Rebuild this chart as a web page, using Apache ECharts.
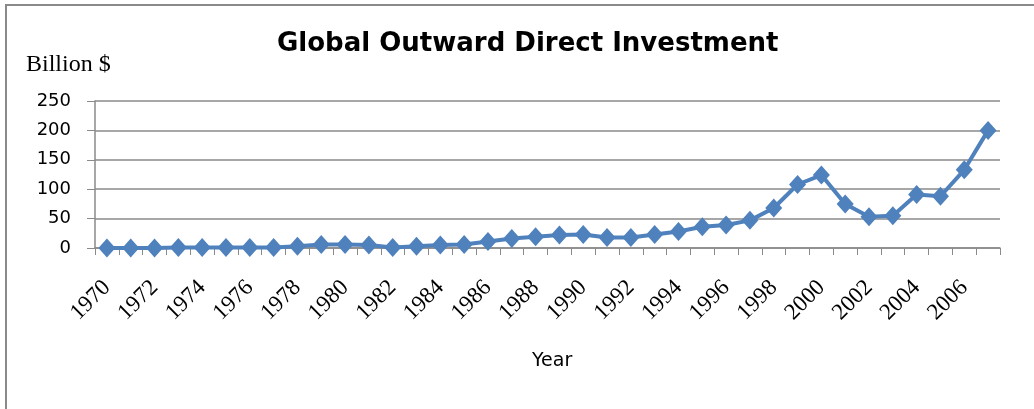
<!doctype html>
<html>
<head>
<meta charset="utf-8">
<script src="https://cdn.jsdelivr.net/npm/echarts@6/dist/echarts.min.js"></script>
<style>
* { margin: 0; padding: 0; }
body { background: #fff; }
#chart { width: 1034px; height: 409px; }
/* frame: only the top and left edges are visible */
#frame {
	position: absolute; left: 5px; top: 4px; width: 1100px; height: 500px;
	border-top: 2px solid #8a8a8a; border-left: 2px solid #8a8a8a;
	pointer-events: none;
}
</style>
</head>
<body>
<div id="chart"></div>
<div id="frame"></div>
<script>
// years on the x axis
var years = [];
for (var y = 1970; y <= 2007; y++) years.push(String(y));

// outward FDI, billion $
var investment = [0, 0, 0, 1, 1, 1, 1, 1, 3, 6,
                  6, 5, 1, 3, 5, 6, 11, 16, 19, 22,
                  23, 18, 18, 23, 28, 36, 39, 47, 68, 108,
                  124, 75, 53, 55, 91, 88, 133, 200];

var yTicks = [0, 50, 100, 150, 200, 250];

var chart = echarts.init(document.getElementById('chart'));

var option = {
	animation: false,
	title: [
		{ text: 'Global Outward Direct Investment', left: 277, top: 31, padding: 0,
		  textStyle: { fontFamily: 'DejaVu Sans', fontWeight: 'bold', fontSize: 26, color: '#000' } },
		{ text: 'Billion $', left: 26, top: 53, padding: 0,
		  textStyle: { fontFamily: 'Liberation Serif', fontWeight: 'normal', fontSize: 24, color: '#000' } },
		{ text: 'Year', left: 532, top: 352, padding: 0,
		  textStyle: { fontFamily: 'DejaVu Sans', fontWeight: 'normal', fontSize: 19, color: '#000' } }
	],
	grid: { left: 95, right: 34, top: 101, height: 147 },
	xAxis: {
		type: 'category',
		data: years,
		boundaryGap: true,
		axisLine: { lineStyle: { color: '#8a8a8a', width: 1.5 } },
		axisTick: { show: true, interval: 0, length: 7, lineStyle: { color: '#8a8a8a' } },
		axisLabel: {
			interval: 1,
			rotate: 45,
			margin: 36,
			fontFamily: 'Liberation Serif',
			fontSize: 23,
			color: '#000',
			formatter: '{s|{value}}',
			rich: {
				s: { fontFamily: 'Liberation Serif', fontSize: 23, color: '#000' }
			}
		}
	},
	yAxis: {
		type: 'value',
		min: yTicks[0],
		max: yTicks[yTicks.length - 1],
		interval: 50,
		axisLine: { show: true, lineStyle: { color: '#8a8a8a', width: 1.5 } },
		axisTick: { show: true, length: 8, lineStyle: { color: '#8a8a8a' } },
		splitLine: { lineStyle: { color: '#8a8a8a', width: 1.5 } },
		axisLabel: {
			margin: 24,
			formatter: '{t|{value}}',
			rich: {
				t: { fontFamily: 'DejaVu Sans', fontSize: 18, color: '#000' }
			}
		}
	},
	series: [{
		type: 'line',
		data: investment,
		symbol: 'diamond',
		symbolSize: [17, 19],
		showAllSymbol: true,
		lineStyle: { color: '#4f81bd', width: 4 },
		itemStyle: { color: '#4f81bd' }
	}]
};

chart.setOption(option);
</script>
</body>
</html>
